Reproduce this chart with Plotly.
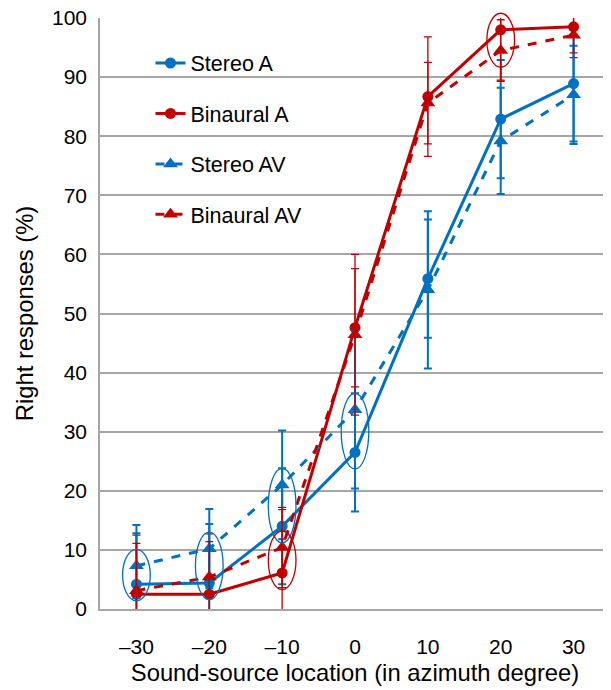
import plotly.graph_objects as go

# ---- data ----
locations = [-30, -20, -10, 0, 10, 20, 30]
tick_labels = ["–30", "–20", "–10", "0", "10", "20", "30"]

stereo_a = [4.2, 4.4, 14.0, 26.5, 55.9, 82.9, 88.9]
stereo_a_err = [10.0, 10.0, 9.8, 10.0, 10.0, 10.0, 9.8]

binaural_a = [2.5, 2.5, 6.1, 47.6, 86.7, 98.0, 98.5]
binaural_a_err = [10.0, 10.2, 10.7, 10.0, 10.1, 8.5, 5.2]

stereo_av = [7.3, 10.2, 21.0, 33.7, 54.0, 79.2, 87.0]
stereo_av_err = [5.5, 6.7, 9.2, 13.3, 13.3, 9.0, 8.3]

binaural_av = [3.1, 5.4, 10.4, 46.4, 85.6, 94.5, 97.1]
binaural_av_err = [8.0, 6.0, 6.8, 13.6, 6.9, 5.2, 3.0]

# highlighted (circled) locations: (location, series pair, colour key)
highlights = [
    (-30, "stereo", "blue"),
    (-20, "stereo", "blue"),
    (-10, "stereo", "blue"),
    (-10, "binaural", "red"),
    (0, "stereo", "blue"),
    (20, "binaural", "red"),
]

BLUE = "#0070C0"
RED = "#C00000"
GRID = "#A6A6A6"
FONT = "Liberation Sans, Arial, sans-serif"

X_RANGE = [-35, 35]
Y_RANGE = [0, 100]

fig = go.Figure()

series = [
    ("Stereo A", stereo_a, stereo_a_err, BLUE, "solid", "circle", 11, 2.0),
    ("Binaural A", binaural_a, binaural_a_err, RED, "solid", "circle", 11, 1.3),
    ("Stereo AV", stereo_av, stereo_av_err, BLUE, "dash", "triangle-up", 13, 2.0),
    ("Binaural AV", binaural_av, binaural_av_err, RED, "dash", "triangle-up", 13, 1.3),
]

for i, (name, vals, errs, col, dash, sym, msize, ethick) in enumerate(series):
    fig.add_trace(go.Scatter(
        x=locations, y=vals, name=name, mode="lines+markers",
        line=dict(color=col, width=3, dash=dash),
        marker=dict(color=col, symbol=sym, size=msize),
        error_y=dict(type="data", array=errs, visible=True, color=col,
                     thickness=ethick, width=4),
        legendgroup=f"g{i}",
    ))

pairs = {"stereo": (stereo_a, stereo_av), "binaural": (binaural_a, binaural_av)}
colors = {"blue": BLUE, "red": RED}
PAD_Y = 2.8
HALF_W = 1.9

def px(v):
    return (v - X_RANGE[0]) / (X_RANGE[1] - X_RANGE[0])

def py(v):
    return (v - Y_RANGE[0]) / (Y_RANGE[1] - Y_RANGE[0])

shapes = [
    # white legend background box (covers gridlines)
    dict(type="rect", xref="paper", yref="paper", x0=0.047, x1=0.48, y0=0.62, y1=0.975,
         fillcolor="white", line=dict(width=0), layer="between"),
]
for loc, key, ck in highlights:
    a, b = pairs[key]
    idx = locations.index(loc)
    lo = min(a[idx], b[idx]) - PAD_Y
    hi = max(a[idx], b[idx]) + PAD_Y
    shapes.append(dict(type="circle", xref="paper", yref="paper",
                       x0=px(loc - HALF_W), x1=px(loc + HALF_W), y0=py(lo), y1=py(hi),
                       line=dict(color=colors[ck], width=1.3), layer="above"))

# page body has an 8px default margin, so the figure is sized/offset to compensate
fig.update_layout(
    width=603, height=682,
    margin=dict(l=92, r=1, t=10, b=81, autoexpand=False),
    paper_bgcolor="white", plot_bgcolor="white",
    font=dict(family=FONT, size=21, color="#000000"),
    showlegend=True,
    legend=dict(x=0.099, y=0.9585, xanchor="left", yanchor="top",
                bgcolor="rgba(0,0,0,0)", font=dict(size=21.5, family=FONT),
                tracegroupgap=19.5, itemwidth=30),
    shapes=shapes,
    xaxis=dict(range=X_RANGE, tickmode="array", tickvals=locations, ticktext=tick_labels,
               showgrid=False, zeroline=False, showline=True, linecolor=GRID, linewidth=1.5,
               ticks="", ticklabelstandoff=18, automargin=False, ticklabeloverflow="allow",
               tickfont=dict(size=21, family=FONT),
               title=dict(text="Sound-source location (in azimuth degree)",
                          font=dict(size=23.8, family=FONT), standoff=7)),
    yaxis=dict(range=Y_RANGE, tickmode="linear", tick0=0, dtick=10,
               showgrid=True, gridcolor=GRID, gridwidth=1.5, zeroline=False,
               showline=True, linecolor=GRID, linewidth=1.5, ticks="",
               ticklabelstandoff=7, automargin=False, ticklabeloverflow="allow",
               tickfont=dict(size=21, family=FONT),
               title=dict(text="Right responses (%)", font=dict(size=23.8, family=FONT),
                          standoff=12)),
)

fig.write_html("out.html")
